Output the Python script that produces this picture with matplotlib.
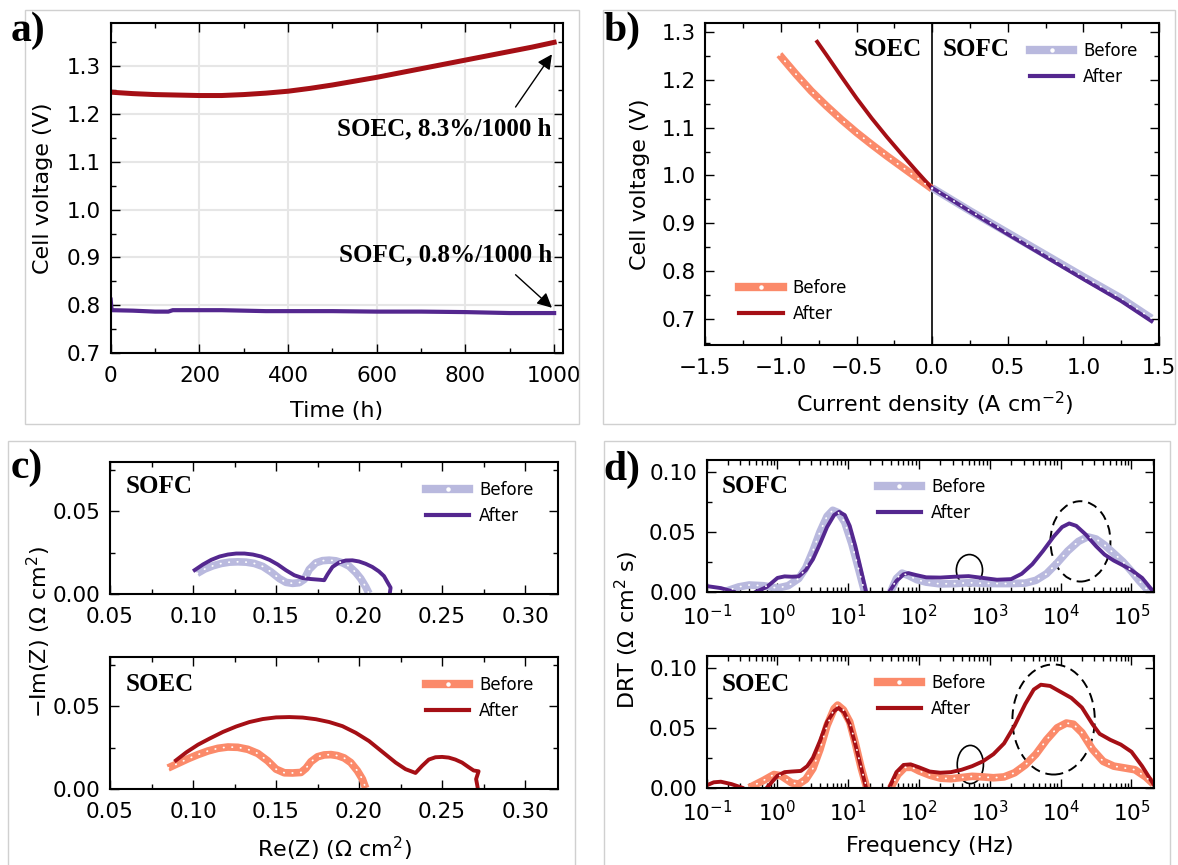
import numpy as np
import matplotlib
matplotlib.use("Agg")
import matplotlib.pyplot as plt
from matplotlib.lines import Line2D
from matplotlib.patches import Ellipse, Rectangle
from matplotlib.ticker import MultipleLocator, LogLocator, NullFormatter

# ---------------- data ----------------
# (a) durability
t_soec = [0, 50, 100, 150, 200, 250, 300, 350, 400, 450, 500, 550, 600, 650, 700, 750, 800, 850, 900, 950, 1000]
v_soec = [1.245, 1.242, 1.240, 1.239, 1.238, 1.238, 1.240, 1.243, 1.247, 1.253, 1.260, 1.268, 1.276, 1.285,
          1.294, 1.303, 1.312, 1.321, 1.330, 1.339, 1.349]
t_sofc = [0, 2, 50, 100, 130, 140, 200, 250, 300, 350, 400, 500, 600, 700, 800, 900, 1000]
v_sofc = [0.812, 0.790, 0.789, 0.787, 0.787, 0.790, 0.790, 0.790, 0.789, 0.788, 0.788, 0.788, 0.787, 0.787,
          0.786, 0.784, 0.784]

# (b) polarisation curves
j_soec_before = [-1.01, -0.9, -0.8, -0.7, -0.6, -0.5, -0.4, -0.3, -0.2, -0.1, 0.0]
v_soec_before = [1.253, 1.212, 1.177, 1.146, 1.117, 1.090, 1.065, 1.041, 1.018, 0.995, 0.972]
j_soec_after = [-0.76, -0.7, -0.6, -0.5, -0.4, -0.3, -0.2, -0.1, 0.0]
v_soec_after = [1.280, 1.253, 1.207, 1.162, 1.120, 1.081, 1.044, 1.008, 0.973]
j_sofc = [0.0, 0.25, 0.5, 0.75, 1.0, 1.25, 1.45]
v_sofc_before = [0.974, 0.926, 0.880, 0.834, 0.788, 0.743, 0.701]
v_sofc_after = [0.974, 0.925, 0.877, 0.830, 0.783, 0.737, 0.695]

# (c) Nyquist
re_sofc_before = [0.1025, 0.107, 0.112, 0.117, 0.122, 0.127, 0.132, 0.137, 0.142, 0.147, 0.152, 0.156, 0.160,
                  0.164, 0.167, 0.170, 0.174, 0.178, 0.182, 0.186, 0.190, 0.194, 0.198, 0.201, 0.204, 0.206]
im_sofc_before = [0.0126, 0.0152, 0.0172, 0.0186, 0.0194, 0.0196, 0.0194, 0.0186, 0.0168, 0.0135, 0.0095, 0.0072,
                  0.0066, 0.0070, 0.0090, 0.0150, 0.0190, 0.0203, 0.0206, 0.0202, 0.0190, 0.0170, 0.0132, 0.0095,
                  0.0045, 0.0005]
re_sofc_after = [0.101, 0.106, 0.111, 0.116, 0.121, 0.126, 0.131, 0.136, 0.141, 0.146, 0.151, 0.156, 0.161, 0.166,
                 0.171, 0.176, 0.179, 0.181, 0.184, 0.188, 0.192, 0.196, 0.200, 0.204, 0.208, 0.212, 0.215, 0.217,
                 0.219, 0.2185]
im_sofc_after = [0.0146, 0.0180, 0.0208, 0.0228, 0.0240, 0.0246, 0.0246, 0.0240, 0.0228, 0.0208, 0.0180, 0.0145,
                 0.0115, 0.0098, 0.0092, 0.0088, 0.0085, 0.0120, 0.0165, 0.0192, 0.0204, 0.0205, 0.0198, 0.0184,
                 0.0165, 0.0138, 0.0110, 0.0075, 0.0040, 0.0005]
re_soec_before = [0.085, 0.091, 0.097, 0.103, 0.109, 0.115, 0.121, 0.127, 0.133, 0.139, 0.145, 0.150, 0.155, 0.160,
                  0.165, 0.168, 0.171, 0.175, 0.179, 0.183, 0.187, 0.191, 0.195, 0.199, 0.202, 0.204]
im_soec_before = [0.0127, 0.0155, 0.0183, 0.0208, 0.0230, 0.0246, 0.0254, 0.0252, 0.0240, 0.0215, 0.0170, 0.0120,
                  0.0098, 0.0097, 0.0100, 0.0125, 0.0165, 0.0195, 0.0206, 0.0208, 0.0202, 0.0188, 0.0160, 0.0110,
                  0.0060, 0.0005]
re_soec_after = [0.0897, 0.096, 0.103, 0.110, 0.118, 0.126, 0.134, 0.142, 0.150, 0.158, 0.166, 0.174, 0.182, 0.190,
                 0.198, 0.206, 0.214, 0.222, 0.228, 0.234, 0.238, 0.242, 0.246, 0.250, 0.254, 0.258, 0.262, 0.266,
                 0.269, 0.272, 0.2705, 0.2715]
im_soec_after = [0.0173, 0.0222, 0.0268, 0.0305, 0.0345, 0.0378, 0.0405, 0.0423, 0.0433, 0.0435, 0.0432, 0.0422,
                 0.0405, 0.0380, 0.0340, 0.0290, 0.0225, 0.0160, 0.0120, 0.0097, 0.0140, 0.0178, 0.0192, 0.0194,
                 0.0190, 0.0178, 0.0160, 0.0132, 0.0112, 0.0107, 0.0060, 0.0005]

# (d) DRT, frequency given as log10(f / Hz); NaN separates segments
logf_sofc_after = [-1.0, -0.8, -0.62, np.nan, -0.3, -0.15, 0.0, 0.1, 0.2, 0.3, 0.4, 0.5, 0.6, 0.7, 0.8, 0.87, 0.95,
                   1.02, 1.1, 1.18, 1.25, np.nan, 1.58, 1.68, 1.78, 1.85, 1.95, 2.1, 2.3, 2.5, 2.7, 2.9, 3.1, 3.3,
                   3.45, 3.6, 3.75, 3.9, 4.02, 4.12, 4.22, 4.35, 4.5, 4.62, 4.75, 4.88, 5.0, 5.15, 5.31]
drt_sofc_after = [0.0047, 0.003, 0.0, np.nan, 0.0, 0.004, 0.0115, 0.0128, 0.0125, 0.0128, 0.018, 0.027, 0.040,
                  0.054, 0.064, 0.0667, 0.064, 0.055, 0.038, 0.018, 0.0, np.nan, 0.0, 0.009, 0.0145, 0.0155, 0.014,
                  0.012, 0.0118, 0.0125, 0.013, 0.0115, 0.010, 0.0105, 0.015, 0.023, 0.034, 0.046, 0.054, 0.057,
                  0.055, 0.048, 0.038, 0.031, 0.026, 0.022, 0.018, 0.0115, 0.0]
logf_sofc_before = [-0.75, -0.55, -0.4, -0.2, 0.0, 0.15, 0.3, 0.4, 0.5, 0.6, 0.7, 0.78, 0.86, 0.95, 1.05, 1.15, 1.23,
                    np.nan, 1.6, 1.68, 1.76, 1.85, 1.97, 2.1, 2.3, 2.5, 2.7, 2.9, 3.1, 3.3, 3.5, 3.65, 3.8, 3.95, 4.1,
                    4.25, 4.38, 4.5, 4.62, 4.75, 4.88, 5.0, 5.1, 5.25]
drt_sofc_before = [0.0, 0.004, 0.0056, 0.005, 0.003, 0.005, 0.011, 0.020, 0.034, 0.050, 0.063, 0.068, 0.066, 0.058,
                   0.040, 0.018, 0.0, np.nan, 0.0, 0.011, 0.0155, 0.0135, 0.0100, 0.008, 0.0065, 0.0068, 0.0075,
                   0.0070, 0.0068, 0.0068, 0.0072, 0.0095, 0.015, 0.024, 0.034, 0.042, 0.0458, 0.044, 0.039, 0.032,
                   0.025, 0.017, 0.0097, 0.0]
logf_soec_after = [-1.0, -0.9, -0.8, -0.65, -0.5, np.nan, -0.15, 0.0, 0.1, 0.2, 0.33, 0.42, 0.5, 0.6, 0.7, 0.8, 0.86,
                   0.94, 1.02, 1.1, 1.18, 1.25, np.nan, 1.58, 1.68, 1.78, 1.88, 2.0, 2.15, 2.3, 2.45, 2.6, 2.75, 2.9,
                   3.05, 3.2, 3.35, 3.5, 3.62, 3.72, 3.85, 4.0, 4.15, 4.3, 4.45, 4.55, 4.7, 4.85, 5.0, 5.15, 5.31]
drt_soec_after = [0.002, 0.0045, 0.005, 0.003, 0.0, np.nan, 0.0, 0.010, 0.013, 0.0135, 0.014, 0.018, 0.025, 0.039,
                  0.055, 0.064, 0.0667, 0.063, 0.053, 0.036, 0.017, 0.0, np.nan, 0.0, 0.013, 0.019, 0.0195, 0.017,
                  0.0135, 0.0125, 0.013, 0.015, 0.018, 0.022, 0.028, 0.037, 0.052, 0.070, 0.082, 0.086, 0.085, 0.080,
                  0.075, 0.067, 0.053, 0.045, 0.040, 0.036, 0.030, 0.018, 0.003]
logf_soec_before = [-0.4, -0.2, -0.05, 0.05, 0.2, 0.3, 0.4, 0.5, 0.6, 0.7, 0.8, 0.85, 0.93, 1.02, 1.1, 1.18, 1.26,
                    np.nan, 1.6, 1.7, 1.8, 1.9, 2.0, 2.15, 2.3, 2.45, 2.6, 2.75, 2.9, 3.05, 3.2, 3.35, 3.5, 3.65, 3.8,
                    3.95, 4.08, 4.18, 4.3, 4.45, 4.6, 4.75, 4.9, 5.05, 5.2, 5.31]
drt_soec_before = [0.0, 0.006, 0.011, 0.010, 0.004, 0.003, 0.007, 0.016, 0.032, 0.052, 0.066, 0.069, 0.065, 0.055,
                   0.037, 0.017, 0.0, np.nan, 0.0, 0.011, 0.017, 0.017, 0.014, 0.0105, 0.008, 0.0075, 0.0085, 0.0095,
                   0.009, 0.0083, 0.009, 0.0125, 0.019, 0.028, 0.040, 0.050, 0.054, 0.053, 0.046, 0.032, 0.022, 0.018,
                   0.0165, 0.015, 0.009, 0.003]

# ---------------- style ----------------
C_SOEC_A = "#a50f15"
C_SOEC_B = "#fb8a6a"
C_SOFC_A = "#54278f"
C_SOFC_B = "#b9b9de"
SERIF = dict(family="Liberation Serif", weight="bold")
TICK_FS = 15.5
LAB_FS = 16

plt.rcParams["font.family"] = ["DejaVu Sans"]
fig = plt.figure(figsize=(11.78, 8.65), dpi=100)
W, H = 1178.0, 865.0


def add_ax(l, t, r, b):
    return fig.add_axes([l / W, 1 - b / H, (r - l) / W, (b - t) / H])


def ftext(x, y, s, **kw):
    return fig.text(x / W, 1 - y / H, s, **kw)


def style(ax):
    ax.tick_params(which="both", direction="in", top=True, right=True, labelsize=TICK_FS, width=1)
    ax.tick_params(which="major", length=6.5)
    ax.tick_params(which="minor", length=3.5)
    ax.tick_params(axis="x", pad=9)
    ax.tick_params(axis="y", pad=7)
    for s in ax.spines.values():
        s.set_linewidth(1.5)


def before_line(ax, x, y, c):
    ax.plot(x, y, color=c, lw=5.5, solid_capstyle="butt", zorder=2)
    ax.plot(x, y, color="white", lw=1.3, ls=(0, (0.2, 4.5)), dash_capstyle="round", zorder=2.1)


def legend(ax, cb, ca, **kw):
    hb = Line2D([], [], color=cb, lw=6, marker="o", ms=2.2, mfc="white", mec="white")
    ha = Line2D([], [], color=ca, lw=3)
    return ax.legend([hb, ha], ["Before", "After"], frameon=False, fontsize=12, handlelength=2.6,
                     handletextpad=0.6, borderaxespad=0, **kw)


# frames around panels
for (l, t, r, b) in [(25, 10, 579, 424), (603, 10, 1175, 424), (8, 441, 575, 870), (604, 441, 1170, 870)]:
    fig.patches.append(Rectangle((l / W, 1 - b / H), (r - l) / W, (b - t) / H, transform=fig.transFigure,
                                 fill=False, ec="#d0d0d0", lw=1.0, zorder=0))

# ---------------- (a) ----------------
axa = add_ax(110.7, 22.7, 563, 353.3)
axa.grid(True, which="major", color="#e6e6e6", lw=1.5)
axa.set_axisbelow(True)
axa.plot(t_soec, v_soec, color=C_SOEC_A, lw=3.6)
axa.plot(t_sofc, v_sofc, color=C_SOFC_A, lw=3.0)
axa.set_xlim(0, 1020)
axa.set_ylim(0.7, 1.39)
axa.xaxis.set_major_locator(MultipleLocator(200))
axa.xaxis.set_minor_locator(MultipleLocator(100))
axa.yaxis.set_major_locator(MultipleLocator(0.1))
axa.yaxis.set_minor_locator(MultipleLocator(0.05))
style(axa)
ftext(337, 411, "Time (h)", ha="center", va="center", fontsize=LAB_FS)
ftext(43.5, 188, "Cell voltage (V)", ha="center", va="center", rotation=90, fontsize=LAB_FS)
axa.text(995, 1.169, "SOEC, 8.3%/1000 h", ha="right", va="center", fontsize=18, **SERIF)
axa.text(995, 0.905, "SOFC, 0.8%/1000 h", ha="right", va="center", fontsize=18, **SERIF)
ap = dict(arrowstyle="-|>", color="k", lw=1.0, mutation_scale=22, shrinkA=0, shrinkB=0)
axa.annotate("", xy=(995, 1.324), xytext=(913, 1.214), arrowprops=ap)
axa.annotate("", xy=(995, 0.795), xytext=(913, 0.864), arrowprops=ap)

# ---------------- (b) ----------------
axb = add_ax(705.3, 22.7, 1159, 345)
before_line(axb, j_soec_before, v_soec_before, C_SOEC_B)
axb.plot(j_soec_after, v_soec_after, color=C_SOEC_A, lw=2.8)
before_line(axb, j_sofc, v_sofc_before, C_SOFC_B)
axb.plot(j_sofc, v_sofc_after, color=C_SOFC_A, lw=2.8)
axb.axvline(0, color="k", lw=1.2, zorder=1)
axb.set_xlim(-1.5, 1.5)
axb.set_ylim(0.645, 1.32)
axb.xaxis.set_major_locator(MultipleLocator(0.5))
axb.xaxis.set_minor_locator(MultipleLocator(0.25))
axb.yaxis.set_major_locator(MultipleLocator(0.1))
axb.yaxis.set_minor_locator(MultipleLocator(0.05))
style(axb)
ftext(935, 404, "Current density (A cm$^{-2}$)", ha="center", va="center", fontsize=LAB_FS)
ftext(639.5, 184, "Cell voltage (V)", ha="center", va="center", rotation=90, fontsize=LAB_FS)
axb.text(-0.07, 1.263, "SOEC", ha="right", va="center", fontsize=18, **SERIF)
axb.text(0.07, 1.263, "SOFC", ha="left", va="center", fontsize=18, **SERIF)
leg_b1 = legend(axb, C_SOEC_B, C_SOEC_A, loc="lower left", bbox_to_anchor=(0.06, 0.047))
axb.add_artist(leg_b1)
legend(axb, C_SOFC_B, C_SOFC_A, loc="upper left", bbox_to_anchor=(0.701, 0.962))

# ---------------- (c) ----------------
axc1 = add_ax(110, 461.7, 558.3, 594.3)
axc2 = add_ax(110, 656.7, 558.3, 789)
before_line(axc1, re_sofc_before, im_sofc_before, C_SOFC_B)
axc1.plot(re_sofc_after, im_sofc_after, color=C_SOFC_A, lw=2.8)
before_line(axc2, re_soec_before, im_soec_before, C_SOEC_B)
axc2.plot(re_soec_after, im_soec_after, color=C_SOEC_A, lw=2.8)
for ax, name, cb, ca, ty in [(axc1, "SOFC", C_SOFC_B, C_SOFC_A, 0.81), (axc2, "SOEC", C_SOEC_B, C_SOEC_A, 0.79)]:
    ax.set_xlim(0.05, 0.32)
    ax.set_ylim(0, 0.08)
    ax.xaxis.set_major_locator(MultipleLocator(0.05))
    ax.xaxis.set_minor_locator(MultipleLocator(0.025))
    ax.yaxis.set_major_locator(MultipleLocator(0.05))
    ax.yaxis.set_minor_locator(MultipleLocator(0.025))
    style(ax)
    ax.text(0.034, ty, name, transform=ax.transAxes, ha="left", va="center", fontsize=18, **SERIF)
    legend(ax, cb, ca, loc="upper left", bbox_to_anchor=(0.69, 0.905))
ftext(334, 849, "Re(Z) (Ω cm$^2$)", ha="center", va="center", fontsize=LAB_FS)
ftext(38.5, 632, "−Im(Z) (Ω cm$^2$)", ha="center", va="center", rotation=90, fontsize=LAB_FS)

# ---------------- (d) ----------------
axd1 = add_ax(706.7, 460, 1154.3, 591.7)
axd2 = add_ax(706.7, 656, 1154.3, 787.7)
before_line(axd1, 10 ** np.array(logf_sofc_before), drt_sofc_before, C_SOFC_B)
axd1.plot(10 ** np.array(logf_sofc_after), drt_sofc_after, color=C_SOFC_A, lw=2.8)
before_line(axd2, 10 ** np.array(logf_soec_before), drt_soec_before, C_SOEC_B)
axd2.plot(10 ** np.array(logf_soec_after), drt_soec_after, color=C_SOEC_A, lw=2.8)
for ax, name, cb, ca, ty in [(axd1, "SOFC", C_SOFC_B, C_SOFC_A, 0.795), (axd2, "SOEC", C_SOEC_B, C_SOEC_A, 0.78)]:
    ax.set_xscale("log")
    ax.set_xlim(0.1, 2.1e5)
    ax.set_ylim(0, 0.11)
    ax.xaxis.set_major_locator(LogLocator(base=10, numticks=12))
    ax.xaxis.set_minor_locator(LogLocator(base=10, subs=np.arange(2, 10), numticks=12))
    ax.xaxis.set_minor_formatter(NullFormatter())
    ax.yaxis.set_major_locator(MultipleLocator(0.05))
    ax.yaxis.set_minor_locator(MultipleLocator(0.025))
    style(ax)
    ax.text(0.033, ty, name, transform=ax.transAxes, ha="left", va="center", fontsize=18, **SERIF)
    legend(ax, cb, ca, loc="upper left", bbox_to_anchor=(0.367, 0.916))
# highlight ellipses (axes-fraction geometry)
axd1.add_patch(Ellipse((0.587, 0.164), 0.0585, 0.236, transform=axd1.transAxes, fill=False, ec="k", lw=1.2))
axd1.add_patch(Ellipse((0.835, 0.382), 0.134, 0.61, transform=axd1.transAxes, fill=False, ec="k", lw=1.4,
                       ls=(0, (5, 3))))
axd2.add_patch(Ellipse((0.589, 0.176), 0.0585, 0.29, transform=axd2.transAxes, fill=False, ec="k", lw=1.2))
axd2.add_patch(Ellipse((0.775, 0.518), 0.184, 0.836, transform=axd2.transAxes, fill=False, ec="k", lw=1.4,
                       ls=(0, (5, 3))))
ftext(930, 846, "Frequency (Hz)", ha="center", va="center", fontsize=LAB_FS)
ftext(627, 630, "DRT (Ω cm$^2$ s)", ha="center", va="center", rotation=90, fontsize=LAB_FS)

# panel labels
for lab, x, y in [("a)", 11, 31), ("b)", 603, 31), ("c)", 11, 468), ("d)", 603, 470)]:
    ftext(x, y, lab, ha="left", va="center", fontsize=30, **SERIF)

fig.savefig("out.png", dpi=100)
